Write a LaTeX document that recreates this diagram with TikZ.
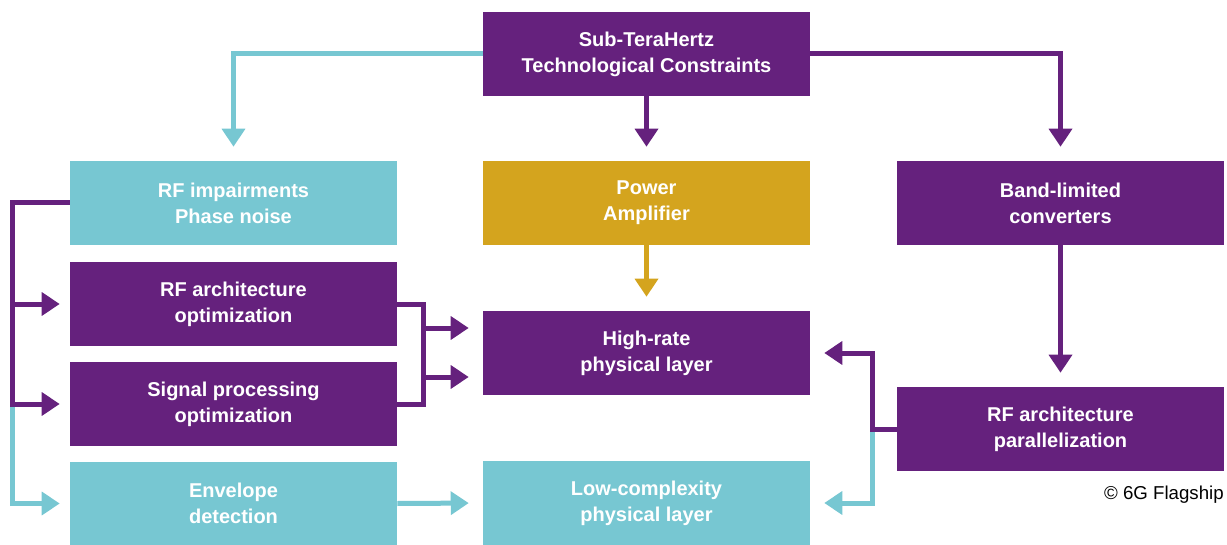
\documentclass[tikz,border=0pt]{standalone}
\usepackage{fontspec}
\setmainfont{Liberation Sans}
\usetikzlibrary{arrows.meta}

\definecolor{flagpurple}{RGB}{101,33,125}
\definecolor{flagcyan}{RGB}{119,199,210}
\definecolor{flaggold}{RGB}{212,164,30}

\tikzset{
  block/.style={minimum width=245.25pt, minimum height=63pt, inner sep=0pt,
    align=center, text=white, font=\fontsize{15}{19.5}\selectfont\bfseries},
  link/.style={line width=3.75pt, -{Triangle[length=13.5pt,width=17pt]}, shorten >=10.5pt},
  sidelink/.style={link, shorten >=7.5pt},
}

\begin{document}
\begin{tikzpicture}[x=0.75pt,y=0.75pt,yscale=-1,xscale=1]
  \useasboundingbox (0,0) rectangle (1227,545);
  % boxes
  \node[block, fill=flagpurple] (top) at (646.5,54) {Sub-TeraHertz\\Technological Constraints};
  \node[block, fill=flagcyan] (rfimp) at (233.5,203) {RF impairments\\Phase noise};
  \node[block, fill=flaggold] (pa) at (646.5,203) {Power\\Amplifier};
  \node[block, fill=flagpurple] (band) at (1060.5,203) {Band-limited\\converters};
  \node[block, fill=flagpurple] (rfopt) at (233.5,304) {RF architecture\\optimization};
  \node[block, fill=flagpurple] (high) at (646.5,353) {High-rate\\physical layer};
  \node[block, fill=flagpurple] (sigproc) at (233.5,404) {Signal processing\\optimization};
  \node[block, fill=flagpurple] (par) at (1060.5,429) {RF architecture\\parallelization};
  \node[block, fill=flagcyan] (env) at (233.5,503.5) {Envelope\\detection};
  \node[block, fill=flagcyan] (low) at (646.5,503) {Low-complexity\\physical layer};
  \node[anchor=east, inner sep=0pt, font=\fontsize{14}{16}\selectfont] (copy) at (1224,495) {\textcopyright{} 6G Flagship};

  % bus lines
  \coordinate (lbus) at (12,203);
  \coordinate (rbus) at (872,429);

  % top row
  \draw[link, flagcyan] (top.west) -| (rfimp.north);
  \draw[link, flagpurple] (top.south) -- (pa.north);
  \draw[link, flagpurple] (top.east) -| (band.north);
  \draw[link, flaggold] (pa.south) -- (high.north);
  \draw[link, flagpurple] (band.south) -- (par.north);

  % left side
  \draw[sidelink, flagcyan] (lbus |- sigproc.west) |- (env.west);
  \draw[sidelink, flagpurple] (rfimp.west) -- (lbus) |- (rfopt.west);
  \draw[sidelink, flagpurple] (lbus) |- (sigproc.west);
  \draw[link, flagpurple] (rfopt.east) -- ++(26,0) |- ([yshift=18pt]high.west);
  \draw[link, flagpurple] (sigproc.east) -- ++(26,0) |- ([yshift=-18.75pt]high.west);
  \draw[link, flagcyan] (env.east) -- (low.west);

  % right side
  \draw[link, flagcyan] (rbus) |- (low.east);
  \draw[link, flagpurple] (par.west) -- (rbus) |- (high.east);
\end{tikzpicture}
\end{document}
